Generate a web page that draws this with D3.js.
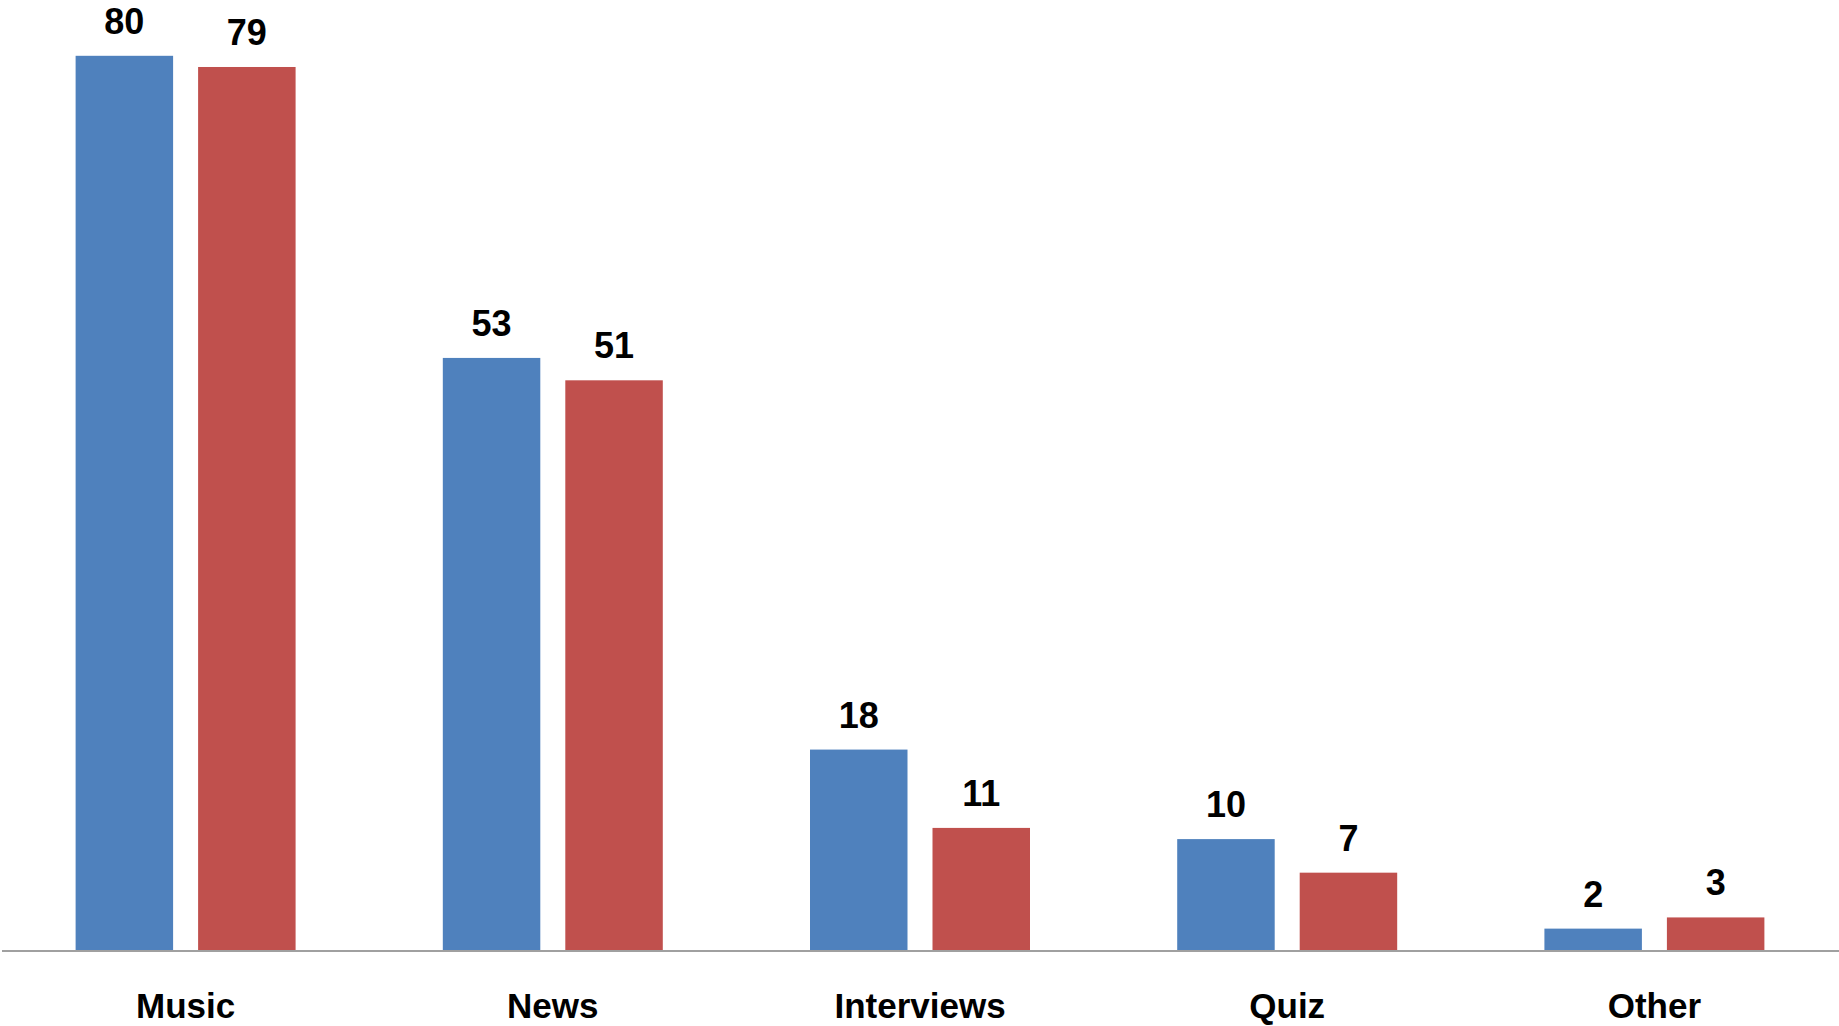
<!DOCTYPE html>
<html>
<head>
<meta charset="utf-8">
<script src="https://cdn.jsdelivr.net/npm/d3@7"></script>
<style>
  html, body { margin: 0; padding: 0; background: #ffffff; }
  svg { display: block; }
  text { font-family: "Liberation Sans", Arial, sans-serif; font-weight: bold; fill: #000; }
</style>
</head>
<body>
<svg id="chart" width="1839" height="1026"></svg>
<script>
// Programme preferences, two respondent groups per category
const categories = ["Music", "News", "Interviews", "Quiz", "Other"];
const seriesA = [80, 53, 18, 10, 2];
const seriesB = [79, 51, 11, 7, 3];
const seriesNames = ["A", "B"];
const seriesColors = ["#4F81BD", "#C0504D"];

const width = 1839, height = 1026;
const margin = { left: 2, right: 1, top: 0, baseline: 951 };

const svg = d3.select("#chart");

const x = d3.scaleBand()
  .domain(categories)
  .range([margin.left, width - margin.right])
  .paddingInner(0)
  .paddingOuter(0);

const barW = x.bandwidth() * 0.2655;
const gap = 25;

const y = d3.scaleLinear()
  .domain([0, 85])
  .range([margin.baseline, margin.baseline - 85 * 11.19]);

const rows = categories.map((c, i) => ({
  category: c,
  values: [seriesA[i], seriesB[i]]
}));

const groups = svg.selectAll("g.group")
  .data(rows)
  .join("g")
  .attr("class", "group")
  .attr("transform", d => {
    const groupW = barW * 2 + gap;
    return `translate(${x(d.category) + (x.bandwidth() - groupW) / 2},0)`;
  });

groups.selectAll("rect")
  .data(d => d.values.map((v, j) => ({ v, j })))
  .join("rect")
  .attr("x", d => d.j * (barW + gap))
  .attr("y", d => y(d.v))
  .attr("width", barW)
  .attr("height", d => y(0) - y(d.v))
  .attr("fill", d => seriesColors[d.j]);

groups.selectAll("text.value")
  .data(d => d.values.map((v, j) => ({ v, j })))
  .join("text")
  .attr("class", "value")
  .attr("x", d => d.j * (barW + gap) + barW / 2)
  .attr("y", d => y(d.v) - 22)
  .attr("text-anchor", "middle")
  .attr("font-size", 36)
  .text(d => d.v);

// baseline axis with category labels
const axis = d3.axisBottom(x).tickSize(0).tickPadding(0);
const axisG = svg.append("g")
  .attr("transform", `translate(0,${y(0)})`)
  .call(axis);
axisG.select(".domain")
  .attr("stroke", "#A0A0A0")
  .attr("stroke-width", 2)
  .attr("d", `M${margin.left},0H${width}`);
axisG.selectAll(".tick text")
  .attr("font-family", "Liberation Sans, Arial, sans-serif")
  .attr("font-weight", "bold")
  .attr("font-size", 35)
  .attr("fill", "#000")
  .attr("dy", null)
  .attr("y", 67);
</script>
</body>
</html>
